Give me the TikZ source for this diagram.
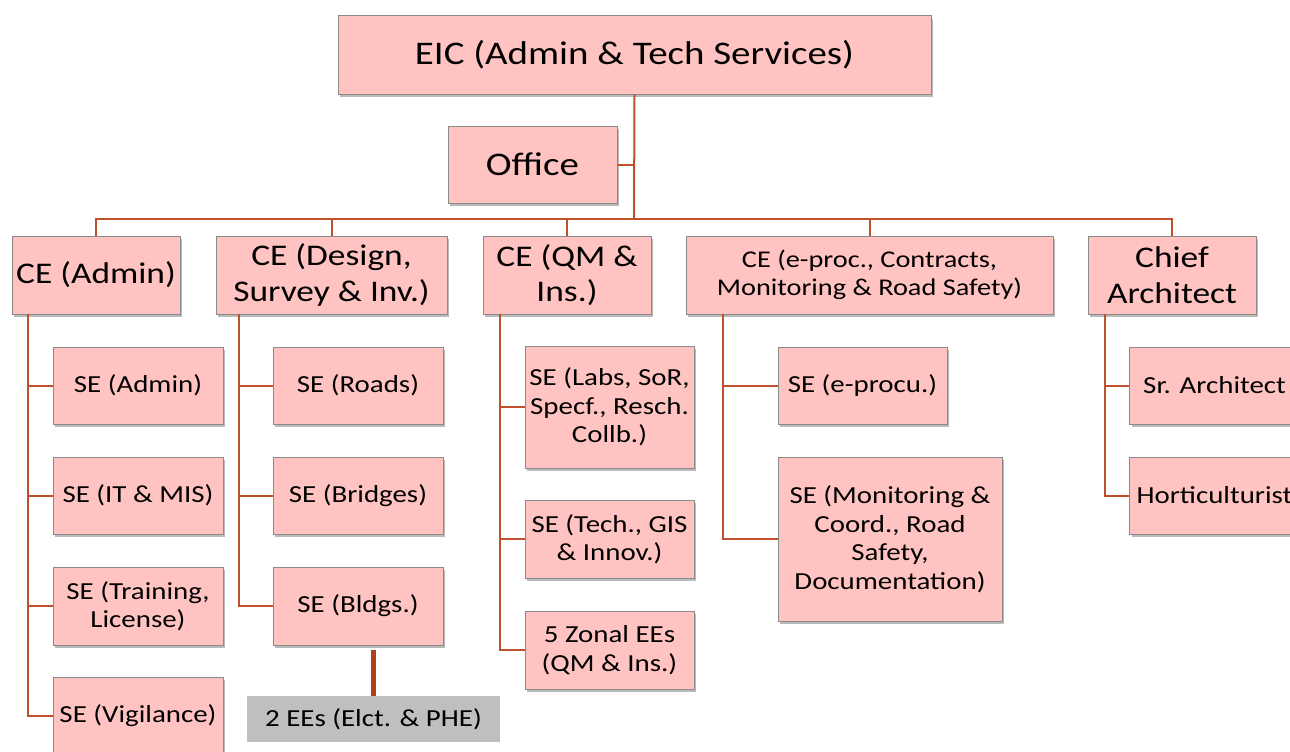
\documentclass[tikz,border=0pt]{standalone}
\usepackage{fontspec}
\setmainfont{Carlito}[FakeStretch=1.18]
\usetikzlibrary{shadows}
\definecolor{boxfill}{HTML}{FFC4C1}
\definecolor{boxline}{HTML}{8A8A8A}
\definecolor{conncol}{HTML}{C0502C}
\definecolor{conndark}{HTML}{B0401E}
\definecolor{greyfill}{HTML}{BFBFBF}
\newcommand\fsizeTop{\fontsize{33}{39}\selectfont}
\newcommand\fsizeCE{\fontsize{30}{35.5}\selectfont}
\newcommand\fsizeSE{\fontsize{24.5}{28.5}\selectfont}
\tikzset{
  box/.style={draw=boxline, line width=1pt, fill=boxfill, inner sep=0pt, align=center,
    drop shadow={shadow xshift=2pt, shadow yshift=-3pt, opacity=0.45, fill=black!60}},
  topbox/.style={box, font=\fsizeTop},
  cebox/.style={box, font=\fsizeCE, minimum height=78pt},
  sebox/.style={box, font=\fsizeSE},
  greybox/.style={fill=greyfill, inner sep=0pt, font=\fsizeSE},
  conn/.style={draw=conncol, line width=2pt},
  thickconn/.style={draw=conndark, line width=5pt},
}
\begin{document}
\begin{tikzpicture}[x=1pt,y=-1pt]
\useasboundingbox (0,0) rectangle (1290,752);
\clip (0,0) rectangle (1290,752);
% top
\node[topbox, minimum width=593pt, minimum height=78pt] (eic) at (634.5,55) {EIC (Admin \& Tech Services)};
\node[topbox, minimum width=169pt, minimum height=77pt] (office) at (532.5,164.5) {Office};
% CE level
\node[cebox, minimum width=168pt] (cead) at (96,275) {CE (Admin)};
\node[cebox, minimum width=231pt] (cedes) at (331.5,275) {CE (Design,\\Survey \& Inv.)};
\node[cebox, minimum width=168pt] (ceqm) at (567,275) {CE (QM \&\\Ins.)};
\node[cebox, minimum width=367pt, font=\fontsize{24}{28.5}\selectfont] (ceep) at (869.5,275) {CE (e-proc., Contracts,\\Monitoring \& Road Safety)};
\node[cebox, minimum width=168pt] (chief) at (1172,275) {Chief\\Architect};
% column 1
\node[sebox, minimum width=170pt, minimum height=77pt] (sadm) at (138,385.5) {SE (Admin)};
\node[sebox, minimum width=170pt, minimum height=77pt] (sit) at (138,495.5) {SE (IT \& MIS)};
\node[sebox, minimum width=170pt, minimum height=78pt] (strn) at (138,606) {SE (Training,\\License)};
\node[sebox, minimum width=170pt, minimum height=77pt] (svig) at (138,715.5) {SE (Vigilance)};
% column 2
\node[sebox, minimum width=170pt, minimum height=77pt] (sroad) at (358,385.5) {SE (Roads)};
\node[sebox, minimum width=170pt, minimum height=77pt] (sbrd) at (358,495.5) {SE (Bridges)};
\node[sebox, minimum width=170pt, minimum height=78pt] (sbld) at (358,606) {SE (Bldgs.)};
\node[greybox, minimum width=253pt, minimum height=46pt] (ees) at (373.5,719) {2 EEs (Elct. \& PHE)};
% column 3
\node[sebox, minimum width=169pt, minimum height=122pt] (slab) at (609.5,407) {SE (Labs, SoR,\\Specf., Resch.\\Collb.)};
\node[sebox, minimum width=169pt, minimum height=78pt] (stech) at (609.5,539) {SE (Tech., GIS\\\& Innov.)};
\node[sebox, minimum width=169pt, minimum height=78pt] (szon) at (609.5,650) {5 Zonal EEs\\(QM \& Ins.)};
% column 4
\node[sebox, minimum width=169pt, minimum height=77pt] (sepr) at (862.5,385.5) {SE (e-procu.)};
\node[sebox, minimum width=224pt, minimum height=164pt] (smon) at (890,539) {SE (Monitoring \&\\Coord., Road\\Safety,\\Documentation)};
% column 5
\node[sebox, minimum width=170pt, minimum height=77pt] (sarch) at (1214.5,385.5) {Sr. Architect};
\node[sebox, minimum width=170pt, minimum height=77pt] (short) at (1214.5,495.5) {Horticulturist};
% connectors
\coordinate (bus) at (634,219);
\coordinate (t1) at (28,314);
\coordinate (t2) at (239,314);
\coordinate (t3) at (500,314);
\coordinate (t4) at (723,314);
\coordinate (t5) at (1105,314);
\draw[conn] (eic.south) -- (bus);
\draw[conn] (office.east) -- (office.east -| bus);
\draw[conn] (cead.north) -- (cead.north |- bus) -- (chief.north |- bus) -- (chief.north);
\draw[conn] (cedes.north) -- (cedes.north |- bus);
\draw[conn] (ceqm.north) -- (ceqm.north |- bus);
\draw[conn] (ceep.north) -- (ceep.north |- bus);
\draw[conn] (t1) |- (sadm.west);
\draw[conn] (t1) |- (sit.west);
\draw[conn] (t1) |- (strn.west);
\draw[conn] (t1) |- (svig.west);
\draw[conn] (t2) |- (sroad.west);
\draw[conn] (t2) |- (sbrd.west);
\draw[conn] (t2) |- (sbld.west);
\draw[conn] (t3) |- (slab.west);
\draw[conn] (t3) |- (stech.west);
\draw[conn] (t3) |- (szon.west);
\draw[conn] (t4) |- (sepr.west);
\draw[conn] (t4) |- (smon.west);
\draw[conn] (t5) |- (sarch.west);
\draw[conn] (t5) |- (short.west);
\draw[thickconn] (ees.north) -- ([yshift=-4pt]ees.north |- sbld.south);
\end{tikzpicture}
\end{document}
